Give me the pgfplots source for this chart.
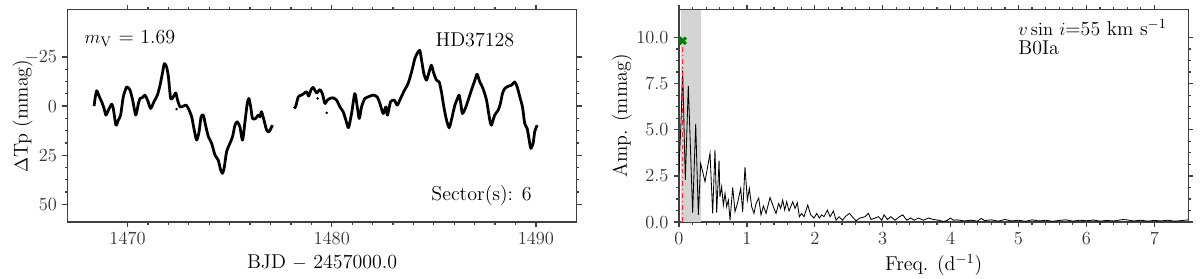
\documentclass[border=0pt]{standalone}
\usepackage{pgfplots}
\pgfplotsset{compat=1.18}

% 1 px of the reference = 0.65pt
\pgfplotsset{
  panel/.style={
    scale only axis, width=331pt, height=138pt,
    axis line style={black!75, line width=0.9pt},
    tick style={black!75, line width=0.8pt},
    tick align=outside,
    major tick length=3.3pt, minor tick length=1.7pt,
    tick label style={font=\fontsize{11.5}{13}\selectfont, black!80},
    label style={font=\fontsize{13}{15}\selectfont},
    /pgf/number format/1000 sep={},
    scaled ticks=false,
  },
}

\begin{document}
\begin{tikzpicture}
\path[use as bounding box] (0,0) rectangle (780pt,181.35pt);

% ---------- light curve ----------
\begin{axis}[panel, at={(43.9pt,37pt)}, anchor=south west,
  xmin=1467.06, xmax=1492.0, ymin=-49, ymax=59, y dir=reverse,
  xtick={1470,1480,1490}, minor x tick num=9,
  ytick={-25,0,25,50}, minor y tick num=3,
  xlabel={BJD $-$ 2457000.0}, ylabel={$\Delta$Tp (mmag)},
  ylabel style={at={(rel axis cs:-0.088,0.5)}, anchor=center},
]
\addplot[black, line width=1.8pt, line join=round, smooth, tension=0.4] coordinates {
(1468.36,0.0)(1468.41,-3.9)(1468.49,-7.8)(1468.62,-4.7)(1468.73,-2.2)(1468.85,1.2)
(1468.94,4.6)(1469.06,2.1)(1469.22,-1.0)(1469.30,1.2)(1469.43,9.7)(1469.55,7.1)
(1469.66,4.6)(1469.79,-4.7)(1469.96,-9.8)(1470.12,-8.1)(1470.25,-3.0)(1470.40,4.6)
(1470.53,-1.3)(1470.61,-3.9)(1470.74,-4.4)(1470.85,-5.6)(1470.98,-3.0)(1471.13,1.2)
(1471.29,-2.2)(1471.46,-5.6)(1471.59,-10.6)(1471.72,-17.4)(1471.80,-21.6)(1471.91,-20.0)
(1472.00,-14.9)(1472.11,-3.9)(1472.24,-4.7)(1472.36,-6.7)(1472.45,-3.0)(1472.57,0.4)
(1472.73,0.0)(1472.86,-0.5)(1472.98,1.2)(1473.14,5.5)(1473.25,11.4)(1473.38,17.3)
(1473.50,13.1)(1473.60,5.5)(1473.71,4.6)(1473.82,9.7)(1473.96,15.6)(1474.12,19.0)
(1474.28,24.9)(1474.44,27.5)(1474.56,32.5)(1474.65,34.2)(1474.74,30.9)(1474.85,23.2)
(1475.01,19.0)(1475.14,15.6)(1475.26,9.7)(1475.37,8.0)(1475.50,10.5)(1475.63,17.3)
(1475.75,8.0)(1475.86,-1.3)(1475.94,-3.9)(1476.03,0.4)(1476.12,6.3)(1476.27,6.3)
(1476.40,4.6)(1476.48,5.5)(1476.56,2.9)(1476.68,7.1)(1476.81,12.2)(1476.92,13.1)
(1477.02,11.4)(1477.10,9.7)
};
\addplot[black, line width=1.8pt, line join=round, smooth, tension=0.4] coordinates {
(1478.16,1.2)(1478.24,0.0)(1478.36,-4.7)(1478.52,-5.6)(1478.64,-6.4)(1478.77,-7.3)
(1478.87,-5.1)(1478.98,-8.1)(1479.09,-9.5)(1479.26,-6.7)(1479.42,-8.4)(1479.55,-6.1)
(1479.66,-1.3)(1479.78,-3.0)(1479.91,-3.9)(1480.07,-4.2)(1480.24,-3.0)(1480.40,0.4)
(1480.56,2.9)(1480.69,7.1)(1480.82,11.0)(1480.97,3.8)(1481.13,-6.4)(1481.25,0.4)
(1481.35,6.3)(1481.46,0.4)(1481.62,-3.9)(1481.78,-4.7)(1482.03,-5.6)(1482.22,-4.7)
(1482.36,-1.3)(1482.52,3.8)(1482.65,0.4)(1482.73,4.6)(1482.88,-2.2)(1483.06,-3.0)
(1483.21,-0.5)(1483.37,-3.9)(1483.58,-8.4)(1483.74,-11.5)(1483.91,-17.4)(1484.07,-24.2)
(1484.18,-26.7)(1484.31,-28.4)(1484.40,-23.3)(1484.51,-16.6)(1484.64,-13.2)(1484.77,-17.4)
(1484.88,-20.8)(1485.00,-16.6)(1485.13,-13.2)(1485.26,-12.3)(1485.37,-7.3)(1485.49,0.4)
(1485.62,7.1)(1485.75,11.0)(1485.86,7.1)(1486.03,-0.5)(1486.16,-3.9)(1486.24,-5.6)
(1486.32,-1.3)(1486.40,3.8)(1486.57,0.4)(1486.68,-3.0)(1486.84,-8.1)(1487.01,-13.2)
(1487.12,-16.2)(1487.25,-12.3)(1487.41,-8.9)(1487.58,-3.0)(1487.74,7.1)(1487.82,9.7)
(1487.98,4.6)(1488.15,2.1)(1488.26,-1.3)(1488.36,-6.4)(1488.47,-8.9)(1488.64,-10.1)
(1488.80,-10.6)(1488.96,-12.3)(1489.08,-9.8)(1489.21,-4.7)(1489.34,0.4)(1489.45,8.8)
(1489.57,11.4)(1489.67,17.3)(1489.75,21.5)(1489.86,19.0)(1489.94,13.1)(1490.06,9.7)
};
\addplot[only marks, mark=*, mark size=0.6pt, black] coordinates {
(1479.31,-3.9)(1479.75,3.4)(1481.33,5.8)(1472.40,1.5)};
\node[anchor=west, font=\fontsize{13}{15}\selectfont] at (rel axis cs:0.023,0.866) {$m_{\mathrm{V}}$ = 1.69};
\node[font=\fontsize{13}{15}\selectfont] at (rel axis cs:0.80,0.856) {HD37128};
\node[font=\fontsize{13}{15}\selectfont] at (rel axis cs:0.813,0.127) {Sector(s): 6};
\end{axis}

% ---------- periodogram ----------
\begin{axis}[panel, at={(441.35pt,37pt)}, anchor=south west,
  xmin=0, xmax=7.5, ymin=0, ymax=11.5,
  xtick={0,1,2,3,4,5,6,7}, minor x tick num=4,
  ytick={0,2.5,5,7.5,10}, minor y tick num=3,
  yticklabel style={/pgf/number format/.cd, fixed, fixed zerofill, precision=1},
  xlabel={Freq. (d$^{-1}$)}, ylabel={Amp. (mmag)},
  ylabel style={at={(rel axis cs:-0.112,0.5)}, anchor=center},
]
\addplot[fill=black!17, draw=none] coordinates {(0.03,0)(0.32,0)(0.32,11.5)(0.03,11.5)} -- cycle;
\addplot[black, line width=0.55pt] coordinates {
(0.0,2.7)(0.03,5.5)(0.054,8.2)(0.075,5.0)(0.093,2.28)(0.137,7.38)(0.201,0.51)(0.246,5.32)
(0.285,0.39)(0.319,3.18)(0.383,2.19)(0.457,3.73)(0.496,0.47)(0.530,3.91)(0.555,0.51)
(0.590,3.33)(0.603,1.37)(0.628,1.91)(0.653,0.92)(0.678,1.55)(0.702,0.83)(0.727,1.19)
(0.752,0.1)(0.791,1.88)(0.825,0.56)(0.860,1.0)(0.909,1.82)(0.938,0.56)(0.972,2.98)
(1.007,1.19)(1.036,1.82)(1.070,0.83)(1.105,0.47)(1.134,1.0)(1.174,1.3)(1.208,0.39)
(1.243,0.87)(1.282,0.47)(1.341,1.33)(1.390,0.83)(1.429,0.47)(1.468,1.0)(1.498,0.74)
(1.527,1.19)(1.557,0.65)(1.586,1.1)(1.620,0.6)(1.675,1.1)(1.709,0.74)(1.743,1.04)
(1.773,0.29)(1.807,0.47)(1.841,0.29)(1.896,0.92)(1.940,0.39)(1.989,0.22)(2.028,0.47)
(2.067,0.22)(2.102,0.39)(2.136,0.29)(2.185,0.65)(2.225,0.29)(2.274,0.6)(2.313,0.1)
(2.358,0.29)(2.407,0.1)(2.456,0.32)(2.510,0.47)(2.569,0.22)(2.608,0.07)(2.667,0.22)
(2.741,0.29)(2.790,0.47)(2.829,0.14)(2.888,0.22)(2.937,0.29)(2.986,0.1)(3.021,0.39)
(3.070,0.14)(3.119,0.29)(3.183,0.1)(3.247,0.29)(3.296,0.39)(3.355,0.1)(3.414,0.22)
(3.463,0.1)(3.527,0.22)(3.600,0.1)(3.674,0.22)(3.748,0.14)(3.822,0.1)(3.896,0.03)
(3.955,0.1)(3.994,0.22)(4.043,0.1)(4.1,0.12)(4.2,0.06)(4.3,0.1)(4.4,0.05)(4.45,0.2)
(4.5,0.08)(4.6,0.12)(4.7,0.05)(4.8,0.14)(4.9,0.06)(5.0,0.1)(5.1,0.04)(5.2,0.12)
(5.3,0.06)(5.4,0.1)(5.5,0.04)(5.6,0.09)(5.7,0.12)(5.8,0.05)(5.9,0.1)(6.0,0.07)
(6.1,0.11)(6.2,0.05)(6.3,0.09)(6.4,0.06)(6.55,0.14)(6.7,0.06)(6.8,0.1)(6.9,0.05)
(7.0,0.09)(7.1,0.06)(7.2,0.1)(7.3,0.05)(7.4,0.08)(7.5,0.12)
};
\addplot[red!85, line width=0.9pt, dash dot] coordinates {(0.054,0)(0.054,9.55)};
\addplot[only marks, mark=x, mark size=3pt, line width=2pt, green!50!black] coordinates {(0.054,9.82)};
\node[anchor=west, font=\fontsize{13}{15}\selectfont] at (rel axis cs:0.656,0.915) {$v\sin\,i$=55 km s$^{-1}$};
\node[anchor=west, font=\fontsize{13}{15}\selectfont] at (rel axis cs:0.656,0.82) {B0Ia};
\end{axis}
\end{tikzpicture}
\end{document}
